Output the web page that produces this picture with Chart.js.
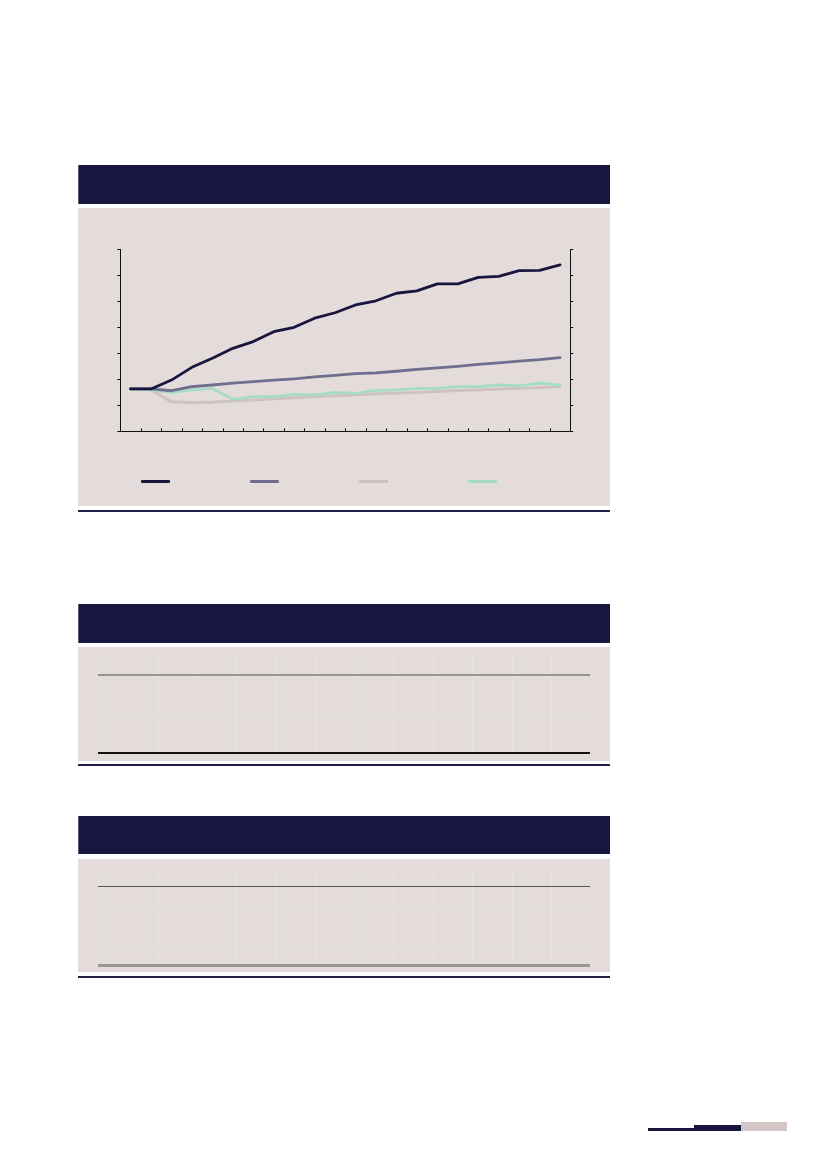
<!DOCTYPE html>
<html lang="en">
<head>
  <meta charset="UTF-8" />
  <title>Chart</title>
  <script src="https://cdn.jsdelivr.net/npm/chart.js"></script>
  <style>
    body {
      margin: 0;
      background: #ffffff;
      font-family: 'Noto Sans', sans-serif;
    }
    .page {
      position: relative;
      width: 827px;
      height: 1169px;
      overflow: hidden;
    }
    .abs { position: absolute; }
    .head {
      background: #16163e;
      border-left: 1px solid #5c5c78;
      box-sizing: border-box;
    }
    .panel { background: #e3dcdb; }
    .rule-navy {
      height: 2px;
      background: #20204a;
    }
    .faint-v { width: 1px; background: #e8e3e2; }
    .faint-h { height: 1px; background: #e8e3e2; }
    .legend-line {
      position: absolute;
      height: 3px;
      width: 29px;
      border-radius: 1px;
    }
    #chartBox {
      position: absolute;
      left: 110px;
      top: 240px;
      width: 470px;
      height: 200px;
    }
  </style>
</head>
<body>
<div class="page" id="page">
  <!-- chart block -->
  <div class="abs head" style="left:78px;top:165px;width:532px;height:39px;"></div>
  <div class="abs panel" style="left:78px;top:208px;width:532px;height:298px;"></div>
  <div class="abs rule-navy" style="left:78px;top:510px;width:532px;"></div>
  <div id="chartBox"><canvas id="lineChart"></canvas></div>
  <div id="legend"></div>

  <!-- table 1 -->
  <div class="abs head" style="left:78px;top:604px;width:532px;height:39px;"></div>
  <div class="abs panel" style="left:78px;top:647px;width:532px;height:114px;"></div>
  <div id="t1"></div>
  <div class="abs" style="left:98px;top:674px;width:492px;height:2px;background:#999595;"></div>
  <div class="abs" style="left:98px;top:752px;width:492px;height:1.5px;background:#111;"></div>
  <div class="abs rule-navy" style="left:78px;top:764px;width:532px;"></div>

  <!-- table 2 -->
  <div class="abs head" style="left:78px;top:816px;width:532px;height:38px;"></div>
  <div class="abs panel" style="left:78px;top:859px;width:532px;height:113px;"></div>
  <div id="t2"></div>
  <div class="abs" style="left:98px;top:885.5px;width:492px;height:1.5px;background:#555;"></div>
  <div class="abs" style="left:98px;top:963.5px;width:492px;height:3px;background:#9a9593;"></div>
  <div class="abs rule-navy" style="left:78px;top:976px;width:532px;"></div>

  <!-- page marker -->
  <div class="abs" style="left:648px;top:1128px;width:47px;height:2.5px;background:#16163e;"></div>
  <div class="abs" style="left:694px;top:1125px;width:47px;height:5.5px;background:#16163e;"></div>
  <div class="abs" style="left:741px;top:1122px;width:46px;height:9px;background:#d4c6c5;"></div>
</div>

<script>
  // categories (periods) and series values
  const periods = ['1','2','3','4','5','6','7','8','9','10','11','12','13','14','15','16','17','18','19','20','21','22'];
  const seriesA = [1.63,1.63,1.97,2.46,2.81,3.19,3.45,3.83,4.00,4.35,4.56,4.86,5.02,5.31,5.40,5.67,5.67,5.92,5.96,6.18,6.19,6.40];
  const seriesB = [1.63,1.63,1.56,1.72,1.78,1.85,1.91,1.97,2.02,2.09,2.15,2.22,2.25,2.31,2.38,2.44,2.50,2.57,2.63,2.70,2.76,2.83];
  const seriesC = [1.63,1.59,1.14,1.10,1.12,1.16,1.20,1.25,1.29,1.33,1.36,1.40,1.44,1.47,1.50,1.53,1.57,1.59,1.62,1.65,1.68,1.72];
  const seriesD = [1.63,1.59,1.50,1.59,1.65,1.23,1.33,1.33,1.42,1.40,1.50,1.46,1.57,1.59,1.65,1.65,1.72,1.72,1.78,1.75,1.85,1.78];
  const yTicks = [0,1,2,3,4,5,6,7];
  const colors = ['#16163e', '#6e6e8e', '#cdc1c1', '#a6dcc6'];

  // table column boundaries (empty grid)
  const tableCols = [98,157.5,197,236,275.5,315,354,393,432.5,472,511.5,551];

  function faintGrid(id, top, bottom, rows) {
    const el = document.getElementById(id);
    tableCols.forEach(x => {
      const d = document.createElement('div');
      d.className = 'abs faint-v';
      d.style.left = x + 'px';
      d.style.top = top + 'px';
      d.style.height = (bottom - top) + 'px';
      el.appendChild(d);
    });
    rows.forEach(y => {
      const d = document.createElement('div');
      d.className = 'abs faint-h';
      d.style.left = '98px';
      d.style.top = y + 'px';
      d.style.width = '492px';
      el.appendChild(d);
    });
  }
  faintGrid('t1', 656, 753, [714]);
  faintGrid('t2', 869, 965, [906, 945]);

  // html legend (line swatches only)
  const legend = document.getElementById('legend');
  colors.forEach((c, i) => {
    const s = document.createElement('div');
    s.className = 'legend-line';
    s.style.background = c;
    s.style.left = (141 + i * 109) + 'px';
    s.style.top = '480px';
    legend.appendChild(s);
  });

  // tick marks: x inward, y outward on both sides
  const tickMarks = {
    id: 'tickMarks',
    afterDraw(chart) {
      const ctx = chart.ctx;
      const area = chart.chartArea;
      const xs = chart.scales.x;
      const ys = chart.scales.y;
      ctx.save();
      ctx.strokeStyle = '#111';
      ctx.lineWidth = 1;
      ctx.beginPath();
      const n = periods.length;
      const step = (xs.getPixelForValue(1) - xs.getPixelForValue(0));
      for (let i = 0; i <= n; i++) {
        const px = Math.round(xs.getPixelForValue(0) - step / 2 + i * step) + 0.5;
        ctx.moveTo(px, area.bottom);
        ctx.lineTo(px, area.bottom - 3);
      }
      yTicks.forEach(v => {
        const py = Math.round(ys.getPixelForValue(v)) + 0.5;
        ctx.moveTo(area.left, py);
        ctx.lineTo(area.left - 3, py);
        ctx.moveTo(area.right, py);
        ctx.lineTo(area.right + 3, py);
      });
      ctx.stroke();
      ctx.restore();
    }
  };

  function lineSet(label, data, color, order) {
    return {
      label: label,
      data: data,
      borderColor: color,
      backgroundColor: color,
      borderWidth: 2.8,
      pointRadius: 0,
      tension: 0,
      fill: false,
      order: order,
      borderCapStyle: 'round',
      borderJoinStyle: 'round'
    };
  }

  new Chart(document.getElementById('lineChart').getContext('2d'), {
    type: 'line',
    data: {
      labels: periods,
      datasets: [
        lineSet('A', seriesA, colors[0], 0),
        lineSet('B', seriesB, colors[1], 0),
        lineSet('C', seriesC, colors[2], 1),
        lineSet('D', seriesD, colors[3], 0)
      ]
    },
    options: {
      responsive: true,
      maintainAspectRatio: false,
      animation: false,
      layout: { padding: { left: 10.3, right: 9.7, top: 9.3, bottom: 8.7 } },
      plugins: {
        legend: { display: false },
        tooltip: { enabled: false }
      },
      scales: {
        x: {
          type: 'category',
          offset: true,
          grid: { display: false, drawTicks: false, offset: true },
          border: { display: true, color: '#111', width: 1 },
          ticks: { display: false }
        },
        y: {
          min: 0,
          max: 7,
          position: 'left',
          grid: { display: false, drawTicks: false },
          border: { display: true, color: '#111', width: 1 },
          ticks: { display: false, stepSize: 1 }
        },
        y2: {
          min: 0,
          max: 7,
          position: 'right',
          grid: { display: false, drawTicks: false },
          border: { display: true, color: '#111', width: 1 },
          ticks: { display: false, stepSize: 1 }
        }
      }
    },
    plugins: [tickMarks]
  });
</script>
</body>
</html>
